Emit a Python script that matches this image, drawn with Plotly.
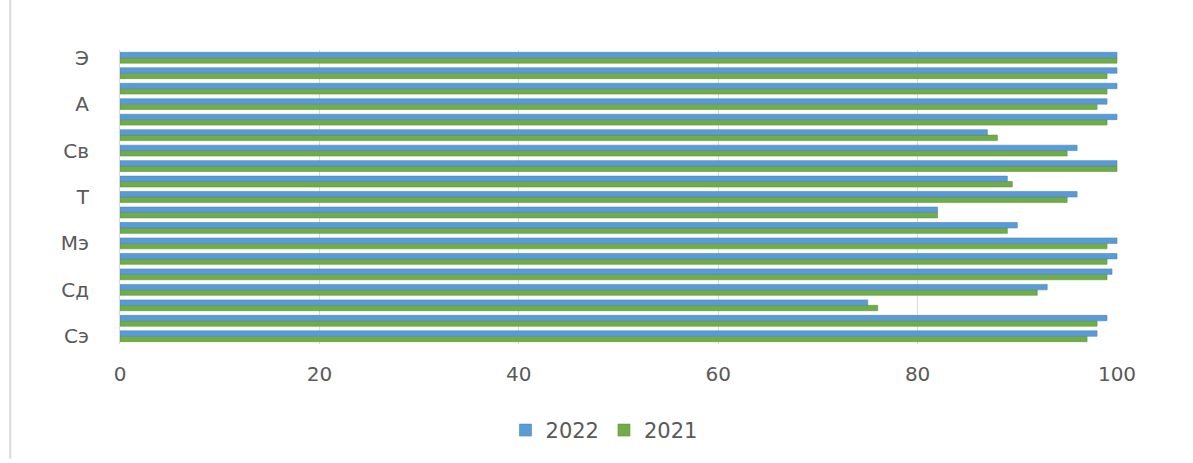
import plotly.graph_objects as go

# Categories from bottom to top; only every third one is labelled in the reference
category_labels = ["Сэ", "", "", "Сд", "", "", "Мэ", "", "", "Т",
                   "", "", "Св", "", "", "А", "", "", "Э"]
values_2022 = [98, 99, 75, 93, 99.5, 100, 100, 90, 82, 96,
               89, 100, 96, 87, 100, 99, 100, 100, 100]
values_2021 = [97, 98, 76, 92, 99, 99, 99, 89, 82, 95,
               89.5, 100, 95, 88, 99, 98, 99, 99, 100]
x_ticks = [0, 20, 40, 60, 80, 100]

positions = list(range(len(category_labels)))
shown_pos = [p for p, t in zip(positions, category_labels) if t]
shown_txt = [t for t in category_labels if t]

FONT = "DejaVu Sans"
GREY = "#595959"

fig = go.Figure()
fig.add_trace(go.Bar(
    y=positions, x=values_2021, orientation="h", name="2021",
    marker=dict(color="#70AD47", line=dict(color="#5E9438", width=0.6)),
    legendrank=2,
))
fig.add_trace(go.Bar(
    y=positions, x=values_2022, orientation="h", name="2022",
    marker=dict(color="#5B9BD5", line=dict(color="#4A86BE", width=0.6)),
    legendrank=1,
))

fig.update_layout(
    width=1193, height=463,
    margin=dict(l=120, r=75, t=50, b=117),
    paper_bgcolor="white", plot_bgcolor="white",
    barmode="group", bargap=0.3, bargroupgap=0,
    font=dict(family=FONT, color=GREY, size=20),
    showlegend=True,
    legend=dict(orientation="h", x=0.485, xanchor="center", y=-0.294, yanchor="middle",
                font=dict(size=21, color=GREY), itemwidth=30, traceorder="normal"),
    xaxis=dict(range=[0, 100.1], tickvals=x_ticks, showgrid=True, gridcolor="#D9D9D9",
               gridwidth=1, zeroline=False, showline=False, ticks="",
               ticklabelstandoff=16, tickfont=dict(size=20, color=GREY)),
    yaxis=dict(range=[-0.5, 18.5], tickvals=shown_pos, ticktext=shown_txt,
               showgrid=False, zeroline=False, showline=True, linecolor="#D9D9D9",
               linewidth=1, ticks="", ticklabelstandoff=26,
               tickfont=dict(size=20, color=GREY)),
    shapes=[dict(type="line", xref="paper", yref="paper",
                 x0=-0.110, x1=-0.110, y0=-0.39, y1=1.17,
                 line=dict(color="#D9D9D9", width=2))],
)

fig.write_html("out.html", post_script="document.body.style.margin='0';",
               config={"displayModeBar": False})
